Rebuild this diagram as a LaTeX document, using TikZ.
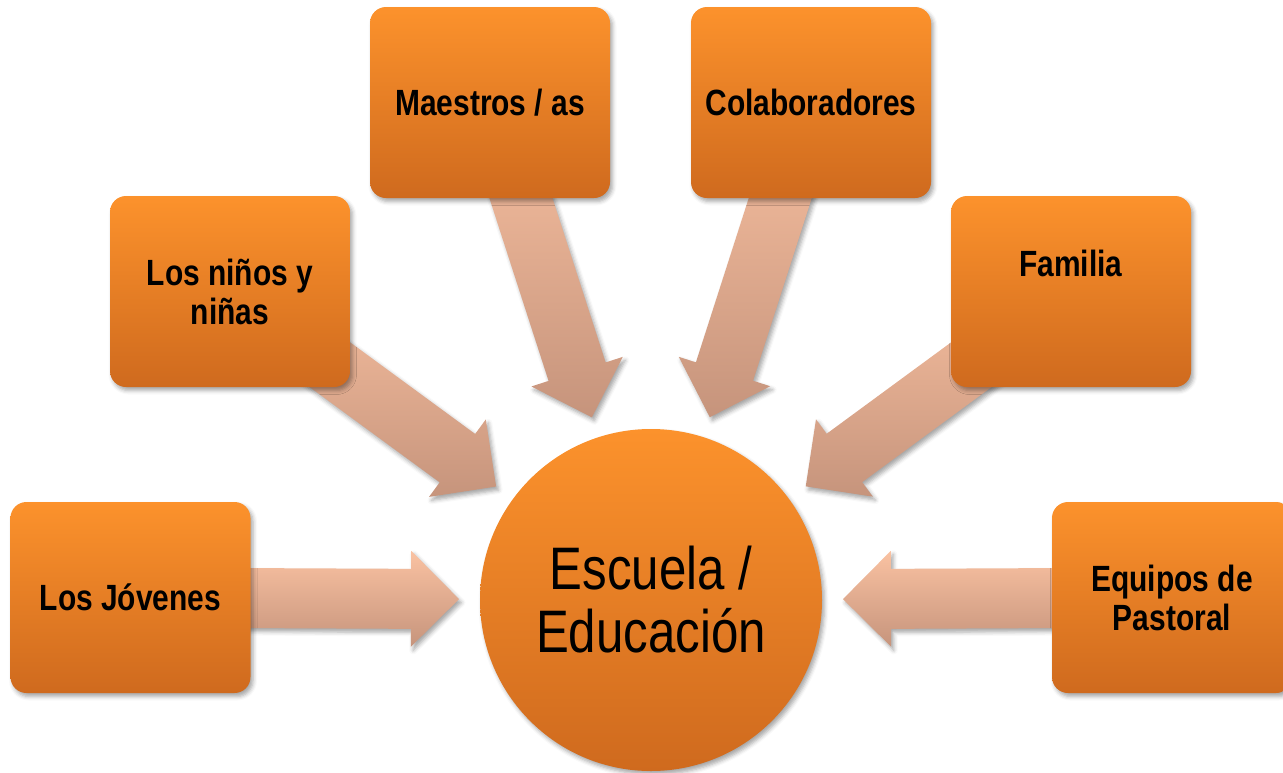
\documentclass[tikz,border=0pt]{standalone}
\usepackage{fontspec}
\setmainfont{Liberation Sans}[FakeStretch=0.82]
\usetikzlibrary{calc,backgrounds,shadows.blur}

\definecolor{boxtop}{RGB}{252,146,44}
\definecolor{boxbot}{RGB}{207,106,30}
\definecolor{arrtop}{RGB}{250,194,162}
\definecolor{arrbot}{RGB}{198,148,124}

\tikzset{
  soft/.style={blur shadow={shadow xshift=2.5pt, shadow yshift=-3.5pt, shadow blur radius=4pt, shadow opacity=35}},
  actor/.style={rectangle, rounded corners=16pt, minimum width=240pt, minimum height=191pt,
    top color=boxtop, bottom color=boxbot, align=center, soft,
    font=\fontsize{36.5}{39}\selectfont\bfseries},
  hub/.style={circle, minimum size=342pt, inner sep=0pt, top color=boxtop, bottom color=boxbot,
    align=center, soft, font=\fontsize{60}{63}\selectfont},
  fatarrow/.style={top color=arrtop, bottom color=arrbot, soft}
}

\begin{document}
\begin{tikzpicture}[x=1pt, y=-1pt]
\useasboundingbox (0,0) rectangle (1283,772);
%
   \node [actor] at (130.5,597.5) (jovenes) {Los Jóvenes};
   \node [actor] at (230,291.5) (ninos) {Los niños y\\niñas};
   \node [actor] at (490,102.5) (maestros) {Maestros / as};
   \node [actor] at (811,102.5) (colab) {Colaboradores};
   \node [actor, text depth=57pt] at (1071,291.5) (familia) {Familia};
   \node [actor] at (1172,597.5) (pastoral) {Equipos de\\Pastoral};
   \node [hub] at (651,600) (escuela) {Escuela /\\Educación};
%
\begin{scope}[on background layer]
\foreach \who in {jovenes,ninos,maestros,colab,familia,pastoral}{
  \coordinate (tip) at ($(escuela.center)!192pt!(\who.center)$);
  \coordinate (base) at ($(tip)!48pt!(\who.center)$);
  \path[fatarrow] (tip) -- ($(base)!48pt!90:(tip)$) -- ($(base)!30pt!90:(tip)$)
     -- ($(\who.center)!30pt!90:(base)$) -- ($(\who.center)!30pt!-90:(base)$)
     -- ($(base)!30pt!-90:(tip)$) -- ($(base)!48pt!-90:(tip)$) -- cycle;
}
\end{scope}
\end{tikzpicture}
\end{document}
